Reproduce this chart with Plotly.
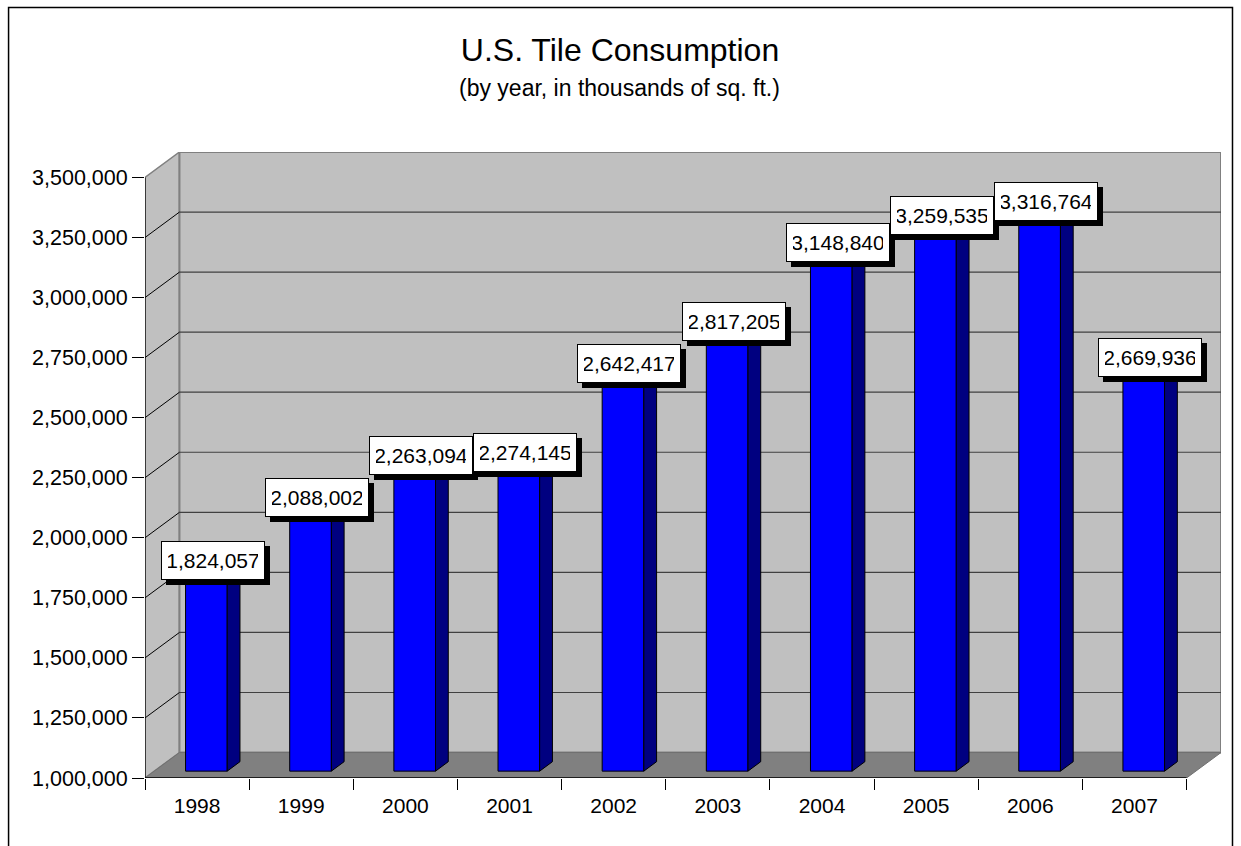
import plotly.graph_objects as go

# ---------------- data ----------------
years = ["1998", "1999", "2000", "2001", "2002", "2003", "2004", "2005", "2006", "2007"]
consumption = [1824057, 2088002, 2263094, 2274145, 2642417, 2817205,
               3148840, 3259535, 3316764, 2669936]
y_tick_values = [1000000, 1250000, 1500000, 1750000, 2000000, 2250000,
                 2500000, 2750000, 3000000, 3250000, 3500000]
title_text = "U.S. Tile Consumption"
subtitle_text = "(by year, in thousands of sq. ft.)"

# ---------------- geometry / style ----------------
W, H = 1241, 846
PL, PR, PT, PB = 145, 1221.5, 151.5, 778     # plot area in pixels
Y0, Y1 = y_tick_values[0], y_tick_values[-1]
DX = 0.331          # depth offset (category units)
DY = 106000         # depth offset (value units)
F0, F1 = 0.27, 0.64  # bar depth fractions (front, back)
FM = (F0 + F1) / 2
HALF = 0.2          # half bar width
FONT = "Liberation Sans, Arial, sans-serif"

n = len(years)
xr = [-0.5, n - 0.5 + DX]
yr = [Y0, Y1 + DY]


def px_to_paper_x(px):
    return (px - PL) / (PR - PL)


def px_to_paper_y(py):
    return (PB - py) / (PB - PT)


shapes = []
# left side wall
shapes.append(dict(type="path", layer="below",
                   path=f"M {-0.5},{Y0} L {-0.5 + DX},{Y0 + DY} L {-0.5 + DX},{Y1 + DY} L {-0.5},{Y1} Z",
                   fillcolor="#C0C0C0", line=dict(color="#808080", width=1.5)))
# back wall
shapes.append(dict(type="rect", layer="below", x0=-0.5 + DX, x1=n - 0.5 + DX, y0=Y0 + DY, y1=Y1 + DY,
                   fillcolor="#C0C0C0", line=dict(color="#808080", width=2)))
# gridlines on back wall and side wall
for v in y_tick_values[1:-1]:
    shapes.append(dict(type="line", layer="below", x0=-0.5 + DX, x1=n - 0.5 + DX, y0=v + DY, y1=v + DY,
                       line=dict(color="#404040", width=1.2)))
    shapes.append(dict(type="line", layer="below", x0=-0.5, x1=-0.5 + DX, y0=v, y1=v + DY,
                       line=dict(color="#000000", width=1)))
# floor
shapes.append(dict(type="path", layer="below",
                   path=f"M {-0.5},{Y0} L {n - 0.5},{Y0} L {n - 0.5 + DX},{Y0 + DY} L {-0.5 + DX},{Y0 + DY} Z",
                   fillcolor="#808080", line=dict(color="#707070", width=1)))
# front axes lines
shapes.append(dict(type="line", layer="above", x0=-0.5, x1=-0.5, y0=Y0, y1=Y1,
                   line=dict(color="#000000", width=1.2)))
shapes.append(dict(type="line", layer="above", x0=-0.5, x1=n - 0.5, y0=Y0, y1=Y0,
                   line=dict(color="#000000", width=1.5)))
# chart border
shapes.append(dict(type="rect", xref="paper", yref="paper",
                   x0=px_to_paper_x(8.5), x1=px_to_paper_x(1233),
                   y0=px_to_paper_y(900), y1=px_to_paper_y(7),
                   line=dict(color="#000000", width=1.5), fillcolor="rgba(0,0,0,0)"))

fig = go.Figure()

# bar front faces
xf = [i + F0 * DX for i in range(n)]
fig.add_trace(go.Bar(
    x=xf, y=[v - Y0 for v in consumption], base=[Y0 + F0 * DY] * n,
    width=2 * HALF, marker=dict(color="#0000FF", line=dict(color="#000000", width=1)),
    hoverinfo="skip", showlegend=False))

# side and top faces
ddx, ddy = (F1 - F0) * DX, (F1 - F0) * DY
sx, sy, tx, ty = [], [], [], []
for i, v in enumerate(consumption):
    x0 = xf[i] - HALF
    x1 = xf[i] + HALF
    b = Y0 + F0 * DY
    t = v + F0 * DY
    sx += [x1, x1 + ddx, x1 + ddx, x1, x1, None]
    sy += [b, b + ddy, t + ddy, t, b, None]
    tx += [x0, x1, x1 + ddx, x0 + ddx, x0, None]
    ty += [t, t, t + ddy, t + ddy, t, None]
fig.add_trace(go.Scatter(x=sx, y=sy, mode="lines", fill="toself", fillcolor="#000080",
                         line=dict(color="#000000", width=1), hoverinfo="skip", showlegend=False))
fig.add_trace(go.Scatter(x=tx, y=ty, mode="lines", fill="toself", fillcolor="#3333FF",
                         line=dict(color="#000000", width=1), hoverinfo="skip", showlegend=False))

# data labels (shadow box + label box)
annotations = []
for i, v in enumerate(consumption):
    common = dict(x=i + FM * DX, y=v + FM * DY, xref="x", yref="y",
                  showarrow=False, borderwidth=1, borderpad=6, width=90, height=25,
                  align="center", valign="middle")
    annotations.append(dict(common, text=" ", xshift=5, yshift=8 - 5, bgcolor="#000000",
                            bordercolor="#000000", font=dict(family=FONT, size=21, color="#000000")))
    annotations.append(dict(common, text=f"{v:,}", yshift=8, bgcolor="#FFFFFF", bordercolor="#000000",
                            font=dict(family=FONT, size=21, color="#000000")))

annotations.append(dict(text=subtitle_text, xref="paper", yref="paper",
                        x=px_to_paper_x(620), y=px_to_paper_y(87), showarrow=False,
                        xanchor="center", yanchor="middle",
                        font=dict(family=FONT, size=23, color="#000000")))

fig.update_layout(
    width=W, height=H,
    margin=dict(l=PL, r=W - PR, t=PT, b=H - PB, pad=0),
    paper_bgcolor="#FFFFFF", plot_bgcolor="rgba(0,0,0,0)",
    title=dict(text=title_text, xref="container", yref="container",
               x=620 / W, y=1 - 50 / H, xanchor="center", yanchor="middle",
               font=dict(family=FONT, size=32, color="#000000")),
    shapes=shapes, annotations=annotations,
    showlegend=False, barmode="overlay",
    xaxis=dict(range=xr, tickmode="array", tickvals=list(range(n)), ticktext=years,
               ticks="outside", ticklen=9, tickcolor="rgba(0,0,0,0)",
               showgrid=False, zeroline=False, showline=False, fixedrange=True,
               tickfont=dict(family=FONT, size=21, color="#000000"),
               minor=dict(tickmode="linear", tick0=-0.5, dtick=1, ticks="outside",
                          ticklen=11, tickcolor="#000000", tickwidth=1, showgrid=False)),
    yaxis=dict(range=yr, tickmode="array", tickvals=y_tick_values, tickformat=",",
               ticks="outside", ticklen=12, tickcolor="#000000", tickwidth=1,
               showgrid=False, zeroline=False, showline=False, fixedrange=True,
               tickfont=dict(family=FONT, size=21.5, color="#000000")),
)

fig.write_html("out.html", config={"displayModeBar": False},
               post_script="document.body.style.margin='0';")
